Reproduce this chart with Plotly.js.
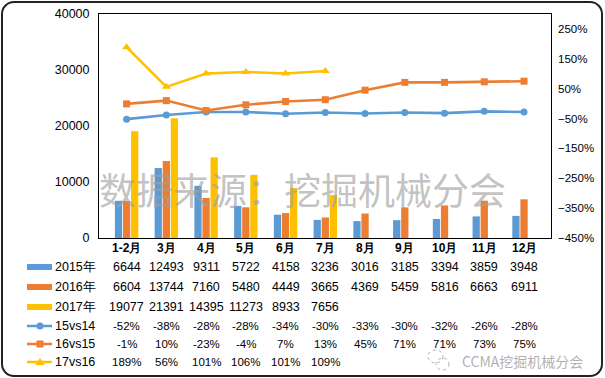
<!DOCTYPE html>
<html>
<head>
<meta charset="utf-8">
<script src="https://cdn.plot.ly/plotly-3.0.1.min.js"></script>
<style>
  html, body { margin: 0; padding: 0; background: #fff; }
  #wrap { position: relative; width: 605px; height: 378px; }
  #chart { width: 605px; height: 378px; }
  #frame { position: absolute; left: 1px; top: 1px; width: 598px; height: 372px;
           border: 2px solid #222; border-radius: 13px; pointer-events: none; }
</style>
</head>
<body>
<div id="wrap"><div id="chart"></div><div id="frame"></div></div>
<script>
// ---- data ----
const categories = ['1-2月','3月','4月','5月','6月','7月','8月','9月','10月','11月','12月'];
const sales2015 = [6644,12493,9311,5722,4158,3236,3016,3185,3394,3859,3948];
const sales2016 = [6604,13744,7160,5480,4449,3665,4369,5459,5816,6663,6911];
const sales2017 = [19077,21391,14395,11273,8933,7656];
const yoy15vs14 = [-52,-38,-28,-28,-34,-30,-33,-30,-32,-26,-28];
const yoy16vs15 = [-1,10,-23,-4,7,13,45,71,71,73,75];
const yoy17vs16 = [189,56,101,106,101,109];
const seriesNames = ['2015年','2016年','2017年','15vs14','16vs15','17vs16'];
const leftTicks = [0,10000,20000,30000,40000];

// ---- styling / geometry ----
const C_BLUE = '#5B9BD5', C_ORANGE = '#ED7D31', C_YELLOW = '#FFC000';
const L = 99, R = 551, T = 14, B = 238;
const W = R - L, H = B - T;
const px = x => (x - L) / W;
const py = y => (B - y) / H;
const FONT = 'Liberation Sans, Arial, sans-serif';

const traces = [
  {type:'bar', name:seriesNames[0], x:categories, y:sales2015, marker:{color:C_BLUE}},
  {type:'bar', name:seriesNames[1], x:categories, y:sales2016, marker:{color:C_ORANGE}},
  {type:'bar', name:seriesNames[2], x:categories.slice(0, sales2017.length), y:sales2017, marker:{color:C_YELLOW}},
  {type:'scatter', mode:'lines+markers', name:seriesNames[3], x:categories, y:yoy15vs14, yaxis:'y2',
   line:{color:C_BLUE, width:2.6}, marker:{symbol:'circle', size:7, color:C_BLUE}},
  {type:'scatter', mode:'lines+markers', name:seriesNames[4], x:categories, y:yoy16vs15, yaxis:'y2',
   line:{color:C_ORANGE, width:2.6}, marker:{symbol:'square', size:7, color:C_ORANGE}},
  {type:'scatter', mode:'lines+markers', name:seriesNames[5], x:categories.slice(0, yoy17vs16.length), y:yoy17vs16, yaxis:'y2',
   line:{color:C_YELLOW, width:2.6}, marker:{symbol:'triangle-up', size:8, color:C_YELLOW}}
];

const annotations = [];
const shapes = [];

// category header row
categories.forEach(c => annotations.push({xref:'x', yref:'paper', x:c, y:py(248), text:c, showarrow:false,
  xanchor:'center', yanchor:'middle', font:{family:FONT, size:12, color:'#000', weight:'bold'}}));

// table rows
const rowY = [267, 287, 307, 326, 344, 362];
const rowData = [sales2015, sales2016, sales2017, yoy15vs14, yoy16vs15, yoy17vs16];
const rowColor = [C_BLUE, C_ORANGE, C_YELLOW, C_BLUE, C_ORANGE, C_YELLOW];
rowData.forEach((arr, r) => {
  const isPct = r >= 3;
  annotations.push({xref:'paper', yref:'paper', x:px(53), y:py(rowY[r]), text:seriesNames[r], showarrow:false,
    xanchor:'left', yanchor:'middle', font:{family:FONT, size:12.5, color:'#000'}});
  arr.forEach((v, i) => annotations.push({xref:'x', yref:'paper', x:categories[i], y:py(rowY[r]),
    text: isPct ? (v + '%') : String(v), showarrow:false, xanchor:'center', yanchor:'middle',
    font:{family:FONT, size: isPct ? 11.5 : 12.5, color:'#000'}}));
  // legend keys
  const y = rowY[r];
  if (!isPct) {
    shapes.push({type:'rect', xref:'paper', yref:'paper', x0:px(27), x1:px(52), y0:py(y-3), y1:py(y+3),
      fillcolor:rowColor[r], line:{width:0}});
  } else {
    shapes.push({type:'line', xref:'paper', yref:'paper', x0:px(27), x1:px(52), y0:py(y), y1:py(y),
      line:{color:rowColor[r], width:2.5}});
    if (r === 3) shapes.push({type:'circle', xref:'paper', yref:'paper', x0:px(36.5), x1:px(43.5), y0:py(y+3.5), y1:py(y-3.5),
      fillcolor:rowColor[r], line:{width:0}});
    if (r === 4) shapes.push({type:'rect', xref:'paper', yref:'paper', x0:px(36.5), x1:px(43.5), y0:py(y+3.5), y1:py(y-3.5),
      fillcolor:rowColor[r], line:{width:0}});
    if (r === 5) shapes.push({type:'path', xref:'paper', yref:'paper',
      path:'M '+px(35.5)+' '+py(y+3)+' L '+px(44.5)+' '+py(y+3)+' L '+px(40)+' '+py(y-4)+' Z',
      fillcolor:rowColor[r], line:{width:0}});
  }
});

// watermarks
annotations.push({xref:'paper', yref:'paper', x:px(302), y:py(189), text:'数据来源：挖掘机械分会', showarrow:false,
  xanchor:'center', yanchor:'middle', font:{family:'Noto Sans CJK SC, sans-serif', size:37, color:'rgba(160,160,160,0.65)'}});
annotations.push({xref:'paper', yref:'paper', x:px(522), y:py(361), text:'CCMA挖掘机械分会', showarrow:false,
  xanchor:'center', yanchor:'middle', font:{family:'Noto Sans CJK SC, sans-serif', size:14, color:'rgba(150,150,150,0.75)'}});
shapes.push({type:'circle', xref:'paper', yref:'paper', x0:px(428), x1:px(443), y0:py(363), y1:py(350),
  line:{color:'rgba(160,160,160,0.8)', width:1, dash:'dot'}});
shapes.push({type:'circle', xref:'paper', yref:'paper', x0:px(436), x1:px(449), y0:py(370), y1:py(358),
  line:{color:'rgba(160,160,160,0.8)', width:1, dash:'dot'}});

const layout = {
  width:605, height:378,
  margin:{l:L, r:605-R, t:T, b:378-B, pad:0},
  paper_bgcolor:'#fff', plot_bgcolor:'#fff',
  showlegend:false,
  barmode:'group', bargap:0.39, bargroupgap:0.1,
  xaxis:{type:'category', showline:true, mirror:true, linecolor:'#000', linewidth:1,
         showticklabels:false, ticks:'', showgrid:false, zeroline:false},
  yaxis:{range:[0,40000], tickvals:leftTicks, tickformat:'d', showgrid:false, zeroline:false, showline:true, mirror:true,
         linecolor:'#000', linewidth:1, ticks:'', ticklabelstandoff:6,
         tickfont:{family:FONT, size:12.5, color:'#000'}},
  yaxis2:{overlaying:'y', side:'right', range:[-450,300], tick0:-450, dtick:100, ticksuffix:'%',
          showgrid:false, zeroline:false, showline:false, ticks:'', ticklabelstandoff:6,
          tickfont:{family:FONT, size:11.5, color:'#000'}},
  annotations: annotations,
  shapes: shapes
};

Plotly.newPlot('chart', traces, layout, {staticPlot:true, displayModeBar:false});
</script>
</body>
</html>
